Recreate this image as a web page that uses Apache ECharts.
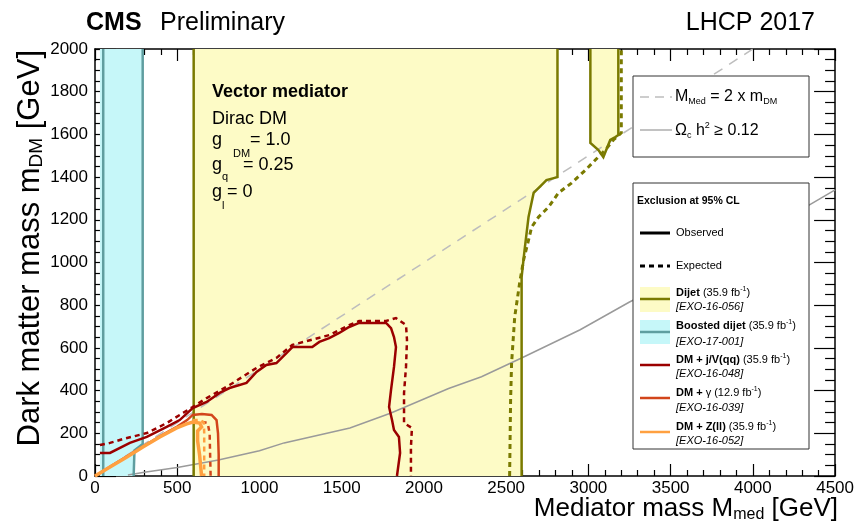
<!DOCTYPE html>
<html><head><meta charset="utf-8">
<script src="https://cdn.jsdelivr.net/npm/echarts@6/dist/echarts.min.js"></script>
<style>html,body{margin:0;padding:0;background:#fff}#c{width:857px;height:526px}</style>
</head><body><div id="c"></div>
<script>
// ---- data (GeV) ----
const massLine2x = [[0,0],[4000,2000]];
const relicX = [200,300,500,750,1000,1150,1550,1800,2150,2350,2600,2950,3250,3700,4100,4500];
const relicY = [5,18,40,75,118,155,225,295,410,465,555,685,815,990,1160,1340];

const boostedObsLeft = [[50,0],[50,2000]];
const boostedObsRight = [[290,2000],[290,150],[240,120],[235,0]];
const boostedFillEdge = [[30,0],[30,2000]];

const dijetObsLeft = [[600,0],[600,2000]];
const dijetObsRight = [[2812,2000],[2812,1400],[2800,1400],[2745,1386],[2727,1372],[2667,1326],[2636,1213],[2612,1059],[2594,932],[2594,0]];
const dijetObsIsland = [[3012,2000],[3012,1560],[3061,1527],[3091,1494],[3133,1574],[3164,1588],[3182,1597],[3182,2000]];
const dijetExp = [[2521,0],[2527,356],[2533,529],[2552,745],[2582,904],[2606,1012],[2636,1105],[2655,1166],[2697,1213],[2758,1260],[2818,1326],[2897,1372],[2982,1433],[3042,1480],[3103,1527],[3152,1574],[3200,1607],[3200,2000]];

const monoObs = [[30,108],[91,108],[212,155],[315,183],[436,230],[515,262],[594,318],[679,347],[758,389],[818,412],[921,436],[982,487],[1042,520],[1103,529],[1164,576],[1200,604],[1321,604],[1364,628],[1424,646],[1485,670],[1545,698],[1606,717],[1770,717],[1800,693],[1818,651],[1830,604],[1818,511],[1800,403],[1788,323],[1806,262],[1818,215],[1848,183],[1855,108],[1836,0]];
const monoExp = [[30,145],[91,155],[170,173],[315,201],[436,248],[515,286],[594,323],[679,365],[818,426],[982,506],[1103,553],[1200,614],[1424,660],[1545,707],[1606,726],[1770,726],[1830,740],[1891,707],[1897,637],[1891,511],[1879,389],[1879,248],[1927,225],[1921,136],[1921,0]];

const photonObs = [[0,0],[194,92],[394,186],[500,232],[560,262],[594,286],[650,290],[709,286],[739,262],[748,200],[752,100],[752,0]];
const photonExp = [[594,253],[655,253],[685,248],[697,201],[703,0]];

const zllObs = [[0,0],[91,42],[194,89],[291,136],[394,183],[497,225],[558,244],[594,253],[636,248],[648,230],[624,211],[624,164],[636,98],[648,0]];
const zllExp = [[594,262],[640,262],[662,250],[664,200],[664,0]];

// ---- styles ----
const FONT = '"Liberation Sans", Arial, Helvetica, sans-serif';
const C = {yellow:'#fdfbc6', olive:'#7a7a00', cyan:'#c6f7f9', teal:'#5f9ea0', mono:'#9b0000', photon:'#d2451b', zll:'#ffa040', grey:'#9a9a9a', greyDash:'#bdbdbd'};

function polySeries(points, color, z){
  return {type:'custom', z:z, silent:true, animation:false,
    encode:{x:0,y:1}, data:points,
    renderItem:function(params, api){
      if (params.dataIndex !== 0) return null;
      return {type:'polygon', shape:{points:points.map(p=>api.coord(p))}, style:{fill:color}};
    }};
}
function lineSeries(points, color, width, dashed, z){
  return {type:'line', data:points, showSymbol:false, symbol:'none', smooth:false, z:z, silent:true,
    animation:false, lineStyle:{color:color, width:width, type: dashed ? dashed : 'solid', cap:'butt', join:'miter'}};
}

const dijetFill = dijetObsLeft.concat(dijetObsRight);
const islandFill = dijetObsIsland;
const boostedFill = boostedFillEdge.concat(boostedObsRight);
const relic = relicX.map((x,i)=>[x, relicY[i]]);
const plainNum = v => String(v);

function axisX(pos, showLabel){
  return {type:'value', min:0, max:4500, interval:500, position:pos,
    axisLine:{onZero:false, lineStyle:{color:'#000', width:1.5}},
    axisTick:{inside:true, length:12, lineStyle:{color:'#000', width:1.2}},
    minorTick:{show:true, splitNumber:5, length:6, lineStyle:{color:'#000', width:1.2}},
    splitLine:{show:false}, minorSplitLine:{show:false},
    axisLabel:{show:showLabel, fontSize:17, color:'#000', margin:4, fontFamily:FONT, formatter:plainNum}};
}
function axisY(pos, showLabel){
  return {type:'value', min:0, max:2000, interval:200, position:pos,
    axisLine:{onZero:false, lineStyle:{color:'#000', width:1.5}},
    axisTick:{inside:true, length:21, lineStyle:{color:'#000', width:1.2}},
    minorTick:{show:true, splitNumber:4, length:10, lineStyle:{color:'#000', width:1.2}},
    splitLine:{show:false}, minorSplitLine:{show:false},
    axisLabel:{show:showLabel, fontSize:17, color:'#000', margin:7, fontFamily:FONT, formatter:plainNum}};
}

function txt(x, y, text, font, opts){
  opts = opts || {};
  return {type:'text', x:x, y:y, z:200, silent:true,
    style:Object.assign({text:text, font:font, fill:'#000', align:opts.align||'left', verticalAlign:'middle',
      textAlign:opts.align||'left', textVerticalAlign:'middle'}, opts.style||{}),
    rotation: opts.rotation||0};
}
const supRich = {sup:{fontSize:7, padding:[0,0,7,0], fontFamily:FONT}, b:{fontWeight:'bold', fontSize:11, fontFamily:FONT}};

const graphics = [
  // titles
  txt(86, 23, 'CMS', 'bold 25px '+FONT),
  txt(160, 23, 'Preliminary', '25px '+FONT),
  txt(815, 23, 'LHCP 2017', '25px '+FONT, {align:'right'}),
  // annotation
  txt(212, 92, 'Vector mediator', 'bold 18px '+FONT),
  txt(212, 119, 'Dirac DM', '18px '+FONT),
  txt(212, 140, 'g', '18px '+FONT), txt(233, 154, 'DM', '11px '+FONT), txt(250, 140, '= 1.0', '18px '+FONT),
  txt(212, 165, 'g', '18px '+FONT), txt(222, 177, 'q', '11px '+FONT), txt(243, 165, '= 0.25', '18px '+FONT),
  txt(212, 192, 'g', '18px '+FONT), txt(222, 206, 'l', '11px '+FONT), txt(227, 192, '= 0', '18px '+FONT),
  // axis titles
  {type:'text', x:30, y:50, z:200, rotation:Math.PI/2, silent:true,
    style:{text:'Dark matter mass m{sub|DM} [GeV]', font:'31px '+FONT, fill:'#000', align:'right', verticalAlign:'middle', textAlign:'right', textVerticalAlign:'middle',
      rich:{sub:{fontSize:19, padding:[14,0,0,0], fontFamily:FONT}}}},
  {type:'text', x:838, y:509, z:200, silent:true,
    style:{text:'Mediator mass M{sub|med} [GeV]', font:'26px '+FONT, fill:'#000', align:'right', verticalAlign:'middle', textAlign:'right', textVerticalAlign:'middle',
      rich:{sub:{fontSize:16, padding:[12,0,0,0], fontFamily:FONT}}}},
  // legend box 1
  {type:'rect', z:150, silent:true, shape:{x:633, y:76, width:176, height:81}, style:{fill:'#fff', stroke:'#333', lineWidth:1}},
  {type:'line', z:160, silent:true, shape:{x1:640,y1:97,x2:672,y2:97}, style:{stroke:C.greyDash, lineWidth:1.5, lineDash:[9,6]}},
  {type:'line', z:160, silent:true, shape:{x1:640,y1:130,x2:672,y2:130}, style:{stroke:C.grey, lineWidth:1.2}},
  {type:'text', x:675, y:97, z:200, silent:true, style:{text:'M{sub|Med} = 2 x m{sub|DM}', font:'16px '+FONT, fill:'#000', verticalAlign:'middle', textVerticalAlign:'middle', rich:{sub:{fontSize:9, padding:[10,0,0,0], fontFamily:FONT}}}},
  {type:'text', x:675, y:131, z:200, silent:true, style:{text:'\u03A9{sub|c} h{sup|2} \u2265 0.12', font:'16px '+FONT, fill:'#000', verticalAlign:'middle', textVerticalAlign:'middle', rich:{sub:{fontSize:9, padding:[10,0,0,0], fontFamily:FONT}, sup:{fontSize:9, padding:[0,0,10,0], fontFamily:FONT}}}},
  // legend box 2
  {type:'rect', z:150, silent:true, shape:{x:633, y:183, width:176, height:266}, style:{fill:'#fff', stroke:'#333', lineWidth:1}},
  txt(637, 201, 'Exclusion at 95% CL', 'bold 10.5px '+FONT),
  {type:'line', z:160, silent:true, shape:{x1:640,y1:233,x2:670,y2:233}, style:{stroke:'#000', lineWidth:3}},
  txt(676, 233, 'Observed', '11px '+FONT),
  {type:'line', z:160, silent:true, shape:{x1:640,y1:266,x2:670,y2:266}, style:{stroke:'#000', lineWidth:3, lineDash:[5,4]}},
  txt(676, 266, 'Expected', '11px '+FONT),
  {type:'rect', z:155, silent:true, shape:{x:640, y:287, width:30, height:25}, style:{fill:C.yellow}},
  {type:'line', z:160, silent:true, shape:{x1:640,y1:299,x2:670,y2:299}, style:{stroke:C.olive, lineWidth:2.5}},
  txt(676, 293, '{b|Dijet} (35.9 fb{sup|-1})', '11px '+FONT, {style:{rich:supRich}}),
  txt(676, 307, '[EXO-16-056]', 'italic 11px '+FONT),
  {type:'rect', z:155, silent:true, shape:{x:640, y:320, width:30, height:24}, style:{fill:C.cyan}},
  {type:'line', z:160, silent:true, shape:{x1:640,y1:332,x2:670,y2:332}, style:{stroke:C.teal, lineWidth:2.5}},
  txt(676, 326, '{b|Boosted dijet} (35.9 fb{sup|-1})', '11px '+FONT, {style:{rich:supRich}}),
  txt(676, 342, '[EXO-17-001]', 'italic 11px '+FONT),
  {type:'line', z:160, silent:true, shape:{x1:640,y1:365,x2:670,y2:365}, style:{stroke:C.mono, lineWidth:2.5}},
  txt(676, 360, '{b|DM + j/V(qq)} (35.9 fb{sup|-1})', '11px '+FONT, {style:{rich:supRich}}),
  txt(676, 374, '[EXO-16-048]', 'italic 11px '+FONT),
  {type:'line', z:160, silent:true, shape:{x1:640,y1:398,x2:670,y2:398}, style:{stroke:C.photon, lineWidth:2.5}},
  txt(676, 393, '{b|DM + }\u03B3 (12.9 fb{sup|-1})', '11px '+FONT, {style:{rich:supRich}}),
  txt(676, 408, '[EXO-16-039]', 'italic 11px '+FONT),
  {type:'line', z:160, silent:true, shape:{x1:640,y1:432,x2:670,y2:432}, style:{stroke:C.zll, lineWidth:2.5}},
  txt(676, 427, '{b|DM + Z(ll)} (35.9 fb{sup|-1})', '11px '+FONT, {style:{rich:supRich}}),
  txt(676, 441, '[EXO-16-052]', 'italic 11px '+FONT)
];

const chart = echarts.init(document.getElementById('c'), null, {renderer:'canvas', width:857, height:526});
chart.setOption({
  animation:false,
  backgroundColor:'#fff',
  grid:{left:95, right:19, top:49, bottom:50, containLabel:false},
  xAxis:[axisX('bottom', true), axisX('top', false)],
  yAxis:[axisY('left', true), axisY('right', false)],
  series:[
    polySeries(dijetFill, C.yellow, 1),
    polySeries(islandFill, C.yellow, 1),
    polySeries(boostedFill, C.cyan, 1),
    lineSeries(massLine2x, C.greyDash, 1.5, [10,8], 2),
    lineSeries(relic, C.grey, 1.5, null, 2),
    lineSeries(boostedObsLeft, C.teal, 2.5, null, 3),
    lineSeries(boostedObsRight, C.teal, 2.5, null, 3),
    lineSeries(dijetObsLeft, C.olive, 2.5, null, 3),
    lineSeries(dijetObsRight, C.olive, 2.5, null, 3),
    lineSeries(dijetObsIsland, C.olive, 2.5, null, 3),
    lineSeries(dijetExp, C.olive, 3, [5,4], 3),
    lineSeries(photonObs, C.photon, 2.5, null, 4),
    lineSeries(photonExp, C.photon, 2.5, [5,4], 4),
    lineSeries(zllExp, C.zll, 2.5, [5,4], 5),
    lineSeries(zllObs, C.zll, 3.5, null, 5),
    lineSeries(monoExp, C.mono, 2.5, [5,4], 6),
    lineSeries(monoObs, C.mono, 2.5, null, 6)
  ],
  graphic:graphics
});
</script></body></html>
